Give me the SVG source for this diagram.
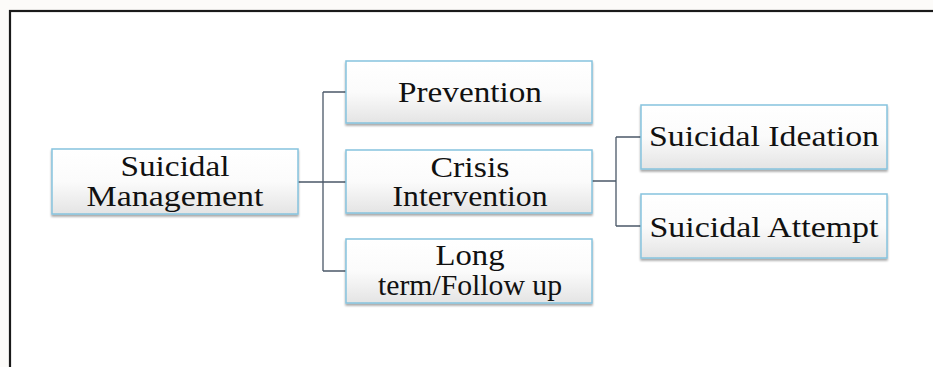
<svg xmlns="http://www.w3.org/2000/svg" width="933" height="367" viewBox="0 0 933 367">
<defs>
<linearGradient id="g" x1="0" y1="0" x2="0" y2="1">
<stop offset="0" stop-color="#ffffff"/>
<stop offset="0.5" stop-color="#fbfbfb"/>
<stop offset="1" stop-color="#e4e4e4"/>
</linearGradient>
<filter id="sh" x="-5%" y="-10%" width="110%" height="130%">
<feGaussianBlur in="SourceAlpha" stdDeviation="1.2"/>
<feOffset dx="0" dy="2" result="b"/>
<feComponentTransfer><feFuncA type="linear" slope="0.35"/></feComponentTransfer>
<feMerge><feMergeNode/><feMergeNode in="SourceGraphic"/></feMerge>
</filter>
</defs>
<style>
.box{fill:url(#g);stroke:#86c3de;stroke-width:1.5;filter:url(#sh)}
.t{font-family:'Liberation Serif','Times New Roman',serif;font-size:29px;fill:#111;text-anchor:middle}
.c{fill:none;stroke:#4b5868;stroke-width:1.3}
</style>
<rect x="0" y="0" width="933" height="367" fill="#fcfbf9"/>
<rect x="10" y="11" width="940" height="380" fill="#ffffff" stroke="#1a1a1a" stroke-width="2.2"/>
<g id="connectors">
<path class="c" d="M298,182 H323 M323,92 V271 M323,92 H346 M323,182 H346 M323,271 H346"/>
<path class="c" d="M592,181 H616 M616,137 V226 M616,137 H641 M616,226 H641"/>
</g>
<g id="management">
<rect class="box" x="52" y="149" width="246" height="65"/>
<text class="t"><tspan x="175" y="176" textLength="109" lengthAdjust="spacingAndGlyphs">Suicidal</tspan><tspan x="175" y="206" textLength="177" lengthAdjust="spacingAndGlyphs">Management</tspan></text>
</g>
<g id="prevention">
<rect class="box" x="346" y="61" width="246" height="62"/>
<text class="t" x="470" y="102" textLength="144" lengthAdjust="spacingAndGlyphs">Prevention</text>
</g>
<g id="crisis">
<rect class="box" x="346" y="150" width="246" height="63"/>
<text class="t"><tspan x="470" y="177" textLength="79" lengthAdjust="spacingAndGlyphs">Crisis</tspan><tspan x="470" y="206" textLength="155" lengthAdjust="spacingAndGlyphs">Intervention</tspan></text>
</g>
<g id="longterm">
<rect class="box" x="346" y="239" width="246" height="64"/>
<text class="t"><tspan x="470" y="265" textLength="69" lengthAdjust="spacingAndGlyphs">Long</tspan><tspan x="470" y="295" textLength="184" lengthAdjust="spacingAndGlyphs">term/Follow up</tspan></text>
</g>
<g id="ideation">
<rect class="box" x="641" y="105" width="246" height="64"/>
<text class="t" x="764" y="146" textLength="230" lengthAdjust="spacingAndGlyphs">Suicidal Ideation</text>
</g>
<g id="attempt">
<rect class="box" x="641" y="194" width="246" height="64"/>
<text class="t" x="764" y="237" textLength="229" lengthAdjust="spacingAndGlyphs">Suicidal Attempt</text>
</g>
</svg>
